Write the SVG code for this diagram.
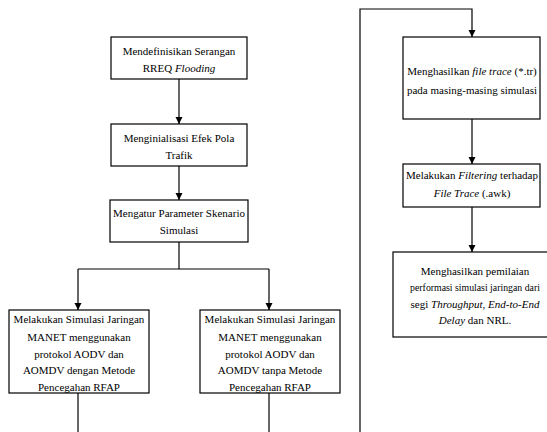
<svg xmlns="http://www.w3.org/2000/svg" width="547" height="432" viewBox="0 0 547 432">
<style>
.box{fill:#fff;stroke:#000;stroke-width:1.2}
.ln{fill:none;stroke:#000;stroke-width:1.2}
text{font-family:'Liberation Serif','Times New Roman',serif;font-size:11px;fill:#000;text-anchor:middle}
.i{font-style:italic}
.sm{font-size:9.8px}
</style>
<defs>
<marker id="ah" markerWidth="8" markerHeight="8" refX="7" refY="4" orient="auto" markerUnits="userSpaceOnUse">
<path d="M0,0.5 L7,4 L0,7.5 Z" fill="#000"/>
</marker>
</defs>
<rect width="547" height="432" fill="#fff"/>
<g id="connectors">
<path class="ln" d="M179,79 V124" marker-end="url(#ah)"/>
<path class="ln" d="M179,166 V200" marker-end="url(#ah)"/>
<path class="ln" d="M179,242 V269"/>
<path class="ln" d="M78,269 H269"/>
<path class="ln" d="M78,269 V310" marker-end="url(#ah)"/>
<path class="ln" d="M269,269 V310" marker-end="url(#ah)"/>
<path class="ln" d="M78,393 V432"/>
<path class="ln" d="M269,393 V432"/>
<path class="ln" d="M360,432 V9 H472 V37" marker-end="url(#ah)"/>
<path class="ln" d="M472,119 V164" marker-end="url(#ah)"/>
<path class="ln" d="M472,207 V252" marker-end="url(#ah)"/>
</g>
<g id="n1">
<rect class="box" x="111" y="37" width="136" height="42"/>
<text x="179" y="55">Mendefinisikan Serangan</text>
<text x="179" y="72">RREQ <tspan class="i">Flooding</tspan></text>
</g>
<g id="n2">
<rect class="box" x="111" y="124" width="136" height="42"/>
<text x="179" y="142">Menginialisasi Efek Pola</text>
<text x="179" y="159">Trafik</text>
</g>
<g id="n3">
<rect class="box" x="110" y="200" width="138" height="42"/>
<text x="179" y="217">Mengatur Parameter Skenario</text>
<text x="179" y="234">Simulasi</text>
</g>
<g id="n4">
<rect class="box" x="9" y="310" width="140" height="83"/>
<text x="79" y="323">Melakukan Simulasi Jaringan</text>
<text x="79" y="341">MANET menggunakan</text>
<text x="79" y="358">protokol AODV dan</text>
<text x="79" y="374">AOMDV dengan Metode</text>
<text x="79" y="391">Pencegahan RFAP</text>
</g>
<g id="n5">
<rect class="box" x="200" y="310" width="140" height="83"/>
<text x="270" y="323">Melakukan Simulasi Jaringan</text>
<text x="270" y="341">MANET menggunakan</text>
<text x="270" y="358">protokol AODV dan</text>
<text x="270" y="374">AOMDV tanpa Metode</text>
<text x="270" y="391">Pencegahan RFAP</text>
</g>
<g id="n6">
<rect class="box" x="403" y="37" width="137" height="82"/>
<text x="472" y="75">Menghasilkan <tspan class="i">file trace</tspan> (*.tr)</text>
<text x="472" y="94">pada masing-masing simulasi</text>
</g>
<g id="n7">
<rect class="box" x="403" y="164" width="137" height="43"/>
<text x="472" y="179">Melakukan <tspan class="i">Filtering</tspan> terhadap</text>
<text x="472" y="197"><tspan class="i">File Trace</tspan> (.awk)</text>
</g>
<g id="n8">
<rect class="box" x="393" y="252" width="160" height="85"/>
<text x="475" y="275">Menghasilkan pemilaian</text>
<text class="sm" x="475" y="291">performasi simulasi jaringan dari</text>
<text x="475" y="308">segi <tspan class="i">Throughput</tspan>, <tspan class="i">End-to-End</tspan></text>
<text x="475" y="324"><tspan class="i">Delay</tspan> dan NRL.</text>
</g>
</svg>
